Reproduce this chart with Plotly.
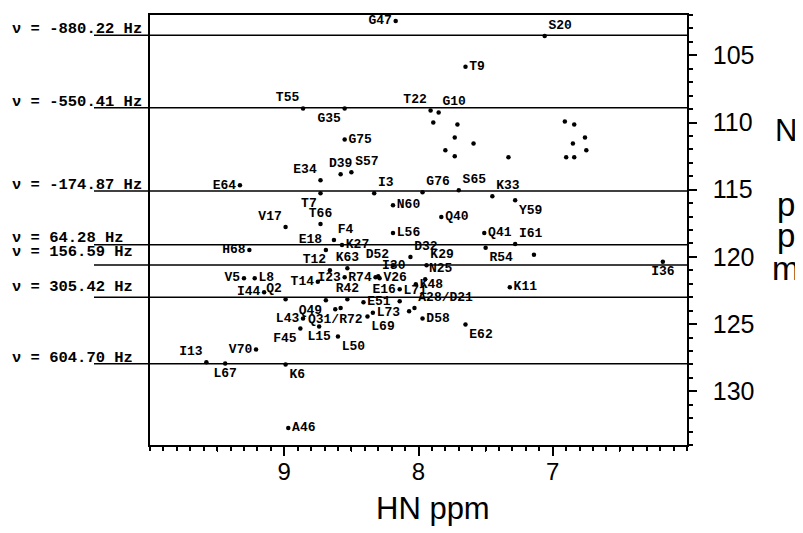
import plotly.graph_objects as go

# assigned backbone amide peaks: name, HN shift (ppm), 15N shift (ppm)
peak_names = ["G47", "S20", "T9", "T55", "G35", "T22", "G10", "G75", "D39", "S57",
              "E34", "E64", "T7", "I3", "G76", "S65", "K33", "Y59", "N60", "Q40",
              "V17", "T66", "L56", "Q41", "F4", "K27", "I61", "R54", "E18", "H68",
              "", "D32", "I36", "D52", "K29", "K63", "T12", "V5", "L8", "I23",
              "R74", "I30", "V26", "N25", "T14", "K48", "K11", "E16", "I44", "R42",
              "Q2", "Q49", "L71", "E51", "", "A28/D21", "Q31/R72", "", "L73", "L69",
              "D58", "L43", "E62", "L15", "F45", "L50", "V70", "I13", "L67", "K6",
              "A46"]
peak_hn = [8.17, 7.06, 7.65, 8.86, 8.55, 7.91, 7.85, 8.55, 8.58, 8.50,
           8.73, 9.33, 8.73, 8.33, 7.97, 7.70, 7.45, 7.28, 8.19, 7.83,
           8.99, 8.73, 8.19, 7.51, 8.63, 8.57, 7.28, 7.50, 8.69, 9.26,
           7.14, 8.06, 6.18, 8.19, 7.94, 8.53, 8.66, 9.30, 9.22, 8.55,
           8.32, 8.30, 8.29, 7.95, 8.75, 8.02, 7.32, 8.14, 9.15, 8.53,
           8.99, 8.69, 8.14, 8.41, 8.07, 8.03, 8.62, 8.58, 8.34, 8.38,
           7.97, 8.86, 7.65, 8.74, 8.88, 8.60, 9.21, 9.58, 9.44, 8.99,
           8.97]
peak_n = [102.44, 103.56, 105.85, 108.96, 108.96, 109.11, 109.26, 111.26, 113.85, 113.70,
          114.30, 114.67, 115.26, 115.26, 115.19, 115.04, 115.48, 115.78, 116.15, 117.04,
          117.78, 117.56, 118.22, 118.22, 118.74, 119.11, 119.04, 119.33, 119.48, 119.48,
          119.85, 120.00, 120.37, 120.63, 120.63, 120.85, 121.00, 121.59, 121.59, 121.52,
          121.52, 121.44, 121.59, 121.67, 121.85, 122.04, 122.26, 122.41, 122.63, 123.15,
          123.15, 123.22, 123.30, 123.37, 124.04, 123.81, 123.89, 123.81, 124.15, 124.44,
          124.59, 124.59, 125.04, 125.19, 125.33, 125.93, 126.89, 127.85, 127.93, 128.00,
          132.74]

# unassigned (side chain) peaks
side_hn = [7.89, 7.71, 7.73, 7.59, 7.80, 7.73, 7.33,
           6.91, 6.84, 6.76, 6.85, 6.75, 6.90, 6.84]
side_n = [110.00, 110.15, 111.11, 111.56, 112.07, 112.52, 112.59,
          109.93, 110.15, 111.11, 111.56, 112.07, 112.59, 112.59]

# 15N offsets of the slices
slice_hz = ["-880.22", "-550.41", "-174.87", "64.28", "156.59", "305.42", "604.70"]
slice_n = [103.5, 108.9, 115.1, 119.1, 120.6, 123.0, 127.95]

# where each label sits relative to its peak
label_side = {
    "G47": "middle left", "S20": "top right", "T9": "middle right", "T55": "top left",
    "G35": "bottom left", "T22": "top left", "G10": "top right", "G75": "middle right",
    "D39": "top center", "S57": "top right", "E34": "top left", "E64": "middle left",
    "T7": "bottom left", "I3": "top right", "G76": "top right", "S65": "top right",
    "K33": "top right", "Y59": "bottom right", "N60": "middle right", "Q40": "middle right",
    "V17": "top left", "T66": "top center", "L56": "middle right", "Q41": "middle right",
    "F4": "top right", "K27": "middle right", "I61": "top right", "R54": "bottom right",
    "E18": "top left", "H68": "middle left", "D32": "top right", "I36": "bottom center",
    "D52": "top left", "K29": "top right", "K63": "top center", "T12": "top left",
    "V5": "middle left", "L8": "middle right", "I23": "middle left", "R74": "middle left",
    "I30": "top right", "V26": "middle right", "N25": "top right", "T14": "middle left",
    "K48": "middle right", "K11": "middle right", "E16": "middle left", "I44": "middle left",
    "R42": "top center", "Q2": "top left", "Q49": "bottom left", "L71": "top right",
    "E51": "middle right", "A28/D21": "top right", "Q31/R72": "bottom center",
    "L73": "middle right", "L69": "bottom right", "D58": "middle right", "L43": "middle left",
    "E62": "bottom right", "L15": "bottom center", "F45": "bottom left", "L50": "bottom right",
    "V70": "middle left", "I13": "top left", "L67": "bottom center", "K6": "bottom right",
    "A46": "middle right",
}

mono = "Liberation Mono, Courier New, monospace"
sans = "Liberation Sans, Arial, Helvetica, sans-serif"

fig = go.Figure()

fig.add_trace(go.Scatter(
    x=side_hn, y=side_n, mode="markers",
    marker=dict(color="black", size=4.5),
    hoverinfo="x+y", showlegend=False,
))
fig.add_trace(go.Scatter(
    x=peak_hn, y=peak_n, mode="markers+text",
    text=peak_names,
    textposition=[label_side.get(n, "middle right") for n in peak_names],
    textfont=dict(family=mono, size=13, color="black", weight="bold"),
    marker=dict(color="black", size=4.5),
    showlegend=False,
))
# empty trace so the half-ppm tick axis gets drawn
fig.add_trace(go.Scatter(x=[], y=[], xaxis="x2", yaxis="y", showlegend=False))

# slice lines with their frequency labels
extra_shift = {"64.28": 1, "156.59": 7, "305.42": 4}
for hz, n in zip(slice_hz, slice_n):
    fig.add_shape(type="line", xref="paper", yref="y",
                  x0=-0.1043, x1=1, y0=n, y1=n,
                  line=dict(color="black", width=1.5))
    fig.add_annotation(text="ν = " + hz + " Hz", xref="paper", yref="y",
                       x=-0.2607, y=n, xanchor="left", yanchor="bottom",
                       yshift=-5 + extra_shift.get(hz, 0), showarrow=False,
                       font=dict(family=mono, size=15.5, color="black", weight="bold"))

# axis titles
fig.add_annotation(text="HN ppm", xref="paper", yref="paper", x=0.527, y=-0.103,
                   xanchor="center", yanchor="top", showarrow=False,
                   font=dict(family=sans, size=31, color="black"))
for ch, yy, sz in [("N", 110.6, 31), ("p", 116.1, 33), ("p", 118.4, 33), ("m", 120.9, 33)]:
    fig.add_annotation(text=ch, xref="paper", yref="y", x=1.184, y=yy,
                       xanchor="center", yanchor="middle", showarrow=False,
                       font=dict(family=sans, size=sz, color="black"))

fig.update_xaxes(
    range=[10.0, 6.0], tickvals=[9, 8, 7], ticks="outside", ticklen=9, tickwidth=1.5,
    tickcolor="black", minor=dict(dtick=0.1, ticks="outside", ticklen=4, tickcolor="black"),
    showline=True, linecolor="black", linewidth=1.5, mirror=True,
    showgrid=False, zeroline=False, ticklabelstandoff=-5,
    tickfont=dict(family=sans, size=24, color="black"),
)
fig.update_yaxes(
    range=[134.0, 102.0], side="right", tickvals=[105, 110, 115, 120, 125, 130],
    ticks="outside", ticklen=8, tickwidth=1.5, tickcolor="black",
    minor=dict(dtick=1, ticks="outside", ticklen=4, tickcolor="black"),
    showline=True, linecolor="black", linewidth=1.5, mirror=True,
    showgrid=False, zeroline=False, ticklabelstandoff=11,
    tickfont=dict(family=sans, size=25, color="black"),
)

# half-ppm ticks, a little longer than the minor ones
fig.update_layout(xaxis2=dict(
    overlaying="x", anchor="y", side="bottom", range=[10.0, 6.0],
    tickvals=[9.5, 8.5, 7.5, 6.5], ticks="outside", ticklen=6, tickwidth=1.2,
    tickcolor="black", showticklabels=False, showgrid=False, zeroline=False,
    showline=False,
))

# the page body adds an 8 px margin, so the figure is 8 px smaller than the window
fig.update_layout(
    width=795, height=525,
    margin=dict(l=142, r=116, t=5, b=88),
    plot_bgcolor="white", paper_bgcolor="white",
)

fig.write_html("out.html")
